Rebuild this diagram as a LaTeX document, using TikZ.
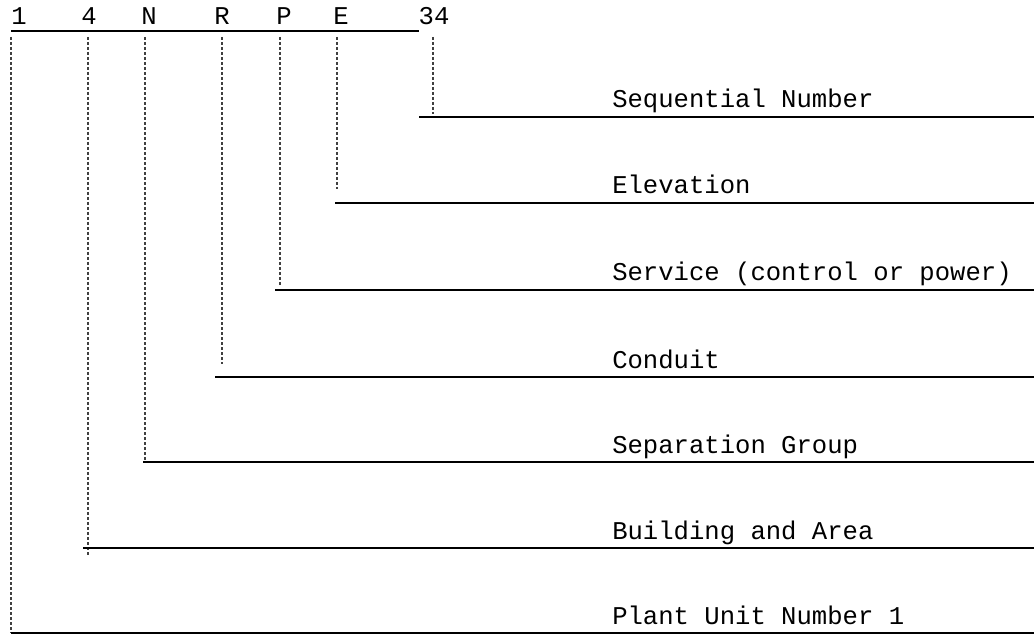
\documentclass[tikz,border=0pt]{standalone}
\usepackage{fontspec}
\newfontfamily\cour{Liberation Mono}
\begin{document}
\begin{tikzpicture}[x=0.75pt,y=-0.75pt,
  code/.style={font=\cour\fontsize{19.2}{22}\selectfont, inner sep=0pt, anchor=base},
  label/.style={font=\cour\fontsize{19.2}{22}\selectfont, inner sep=0pt, anchor=base west},
  leader/.style={black!75, line width=0.9pt, dash pattern=on 2.25pt off 1.5pt},
  rule/.style={black, line width=1.5pt}]
\useasboundingbox (0,0) rectangle (1034,634);

% the code string, one character group per field
\node[code] (c1) at (19,25) {1};
\node[code] (c4) at (89,25) {4};
\node[code] (cN) at (149,25) {N};
\node[code] (cR) at (222,25) {R};
\node[code] (cP) at (284,25) {P};
\node[code] (cE) at (341,25) {E};
\node[code] (c34) at (434,25) {34};

% underline of the code
\coordinate (ul0) at (11,31);
\coordinate (ul1) at (419,31);
\draw[rule, line width=1.3pt] (ul0) -- (ul1);

% field rows: name / tick x / rule y / rule start x / tick end y / text
\foreach \n/\tx/\ry/\rx/\ty/\txt in {
  34/433/117/419/114/Sequential Number,
  E/337/203/335/189/Elevation,
  P/280/290/275/285/Service (control or power),
  R/222/377/215/364/Conduit,
  N/145/462/143/462/Separation Group,
  4/88/548/83/555/Building and Area,
  1/11/633/11/633/Plant Unit Number 1}{
  \coordinate (top\n) at (\tx,37);
  \coordinate (bot\n) at (\tx,\ty);
  \coordinate (rs\n) at (\rx,\ry);
  \coordinate (re\n) at (1034,\ry);
  \draw[leader] (top\n) -- (bot\n);
  \draw[rule] (rs\n) -- (re\n);
  \node[label] (lab\n) at (612,\ry-9) {\txt};
}
\end{tikzpicture}
\end{document}
